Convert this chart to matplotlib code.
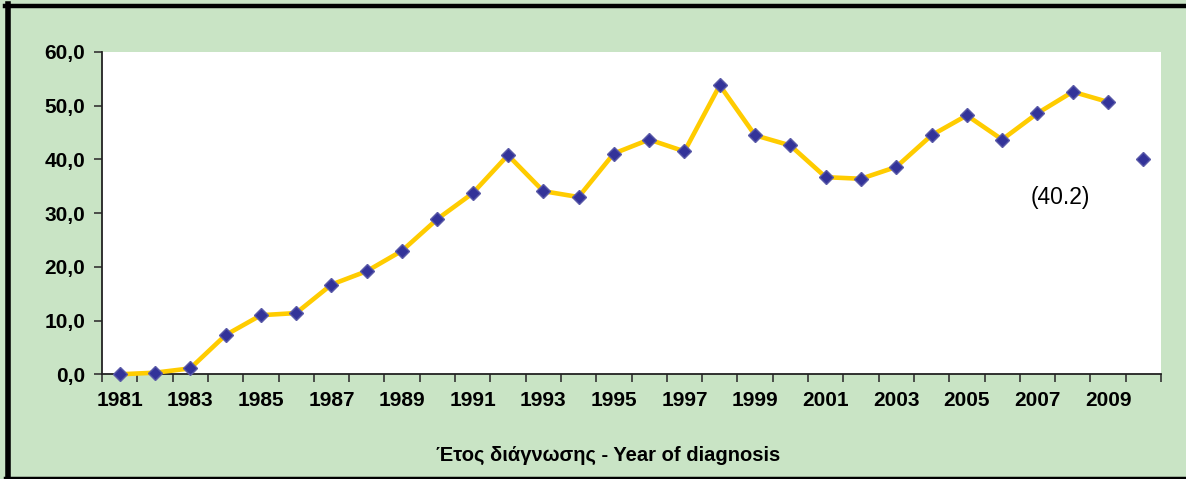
import matplotlib
matplotlib.use("Agg")
import matplotlib.pyplot as plt
from matplotlib.lines import Line2D

plt.rcParams['font.family'] = ['Liberation Sans', 'DejaVu Sans']

years = list(range(1981, 2010))
values = [0.0, 0.3, 1.1, 7.3, 11.0, 11.4, 16.7, 19.2, 23.0, 28.9,
          33.7, 40.8, 34.1, 33.0, 41.1, 43.7, 41.5, 53.8, 44.5, 42.6,
          36.7, 36.4, 38.6, 44.5, 48.2, 43.7, 48.6, 52.6, 50.7]
extra_year = [2010]
extra_value = [40.0]
annotation_text = "(40.2)"
yticks = [0, 10, 20, 30, 40, 50, 60]
ytick_labels = ["0,0", "10,0", "20,0", "30,0", "40,0", "50,0", "60,0"]
xtick_years = list(range(1981, 2010, 2))
xlabel = "Έτος διάγνωσης - Year of diagnosis"

green = "#C9E4C5"
fig = plt.figure(figsize=(11.86, 4.79), dpi=100, facecolor=green)
ax = fig.add_axes([102/1186, 1 - 374.3/479, (1161 - 102)/1186, (374.3 - 52)/479])
ax.set_facecolor("white")

ax.plot(years, values, color="#FFCC00", lw=3.3, marker="D", ms=7.6,
        mfc="#333399", mec="#5A5AA8", mew=1.0, zorder=3, clip_on=False)
ax.plot(extra_year, extra_value, ls="none", marker="D", ms=7.6,
        mfc="#333399", mec="#5A5AA8", mew=1.0, zorder=3, clip_on=False)

ax.text(2007.64, 33.0, annotation_text, fontsize=16.5, ha="center", va="center", color="black")

ax.set_xlim(1980.5, 2010.5)
ax.set_ylim(0, 60)
ax.set_yticks(yticks)
ax.set_yticklabels(ytick_labels, fontsize=15, fontweight="bold")
ax.set_xticks(xtick_years)
ax.set_xticklabels([str(y) for y in xtick_years], fontsize=15, fontweight="bold")
ax.set_xticks([y + 0.5 for y in range(1980, 2011)], minor=True)
ax.tick_params(axis="x", which="major", length=0, pad=12)
ax.tick_params(axis="x", which="minor", length=6, width=1.2, color="#333333", direction="out")
ax.tick_params(axis="y", length=6, width=1.2, color="#333333", pad=6)

for s in ["top", "right"]:
    ax.spines[s].set_visible(False)
for s in ["left", "bottom"]:
    ax.spines[s].set_color("#222222")
    ax.spines[s].set_linewidth(1.3)

fig.text(608/1186, 1 - 455/479, xlabel, fontsize=14.5,
         fontweight="bold", ha="center", va="center")

# outer frame (left, top, bottom)
fig.add_artist(Line2D([7.5/1186, 7.5/1186], [0, 1 - 4/479], color="black", lw=4, transform=fig.transFigure))
fig.add_artist(Line2D([5/1186, 1], [1 - 6/479, 1 - 6/479], color="black", lw=3.2, transform=fig.transFigure))
fig.add_artist(Line2D([5/1186, 1], [1.5/479, 1.5/479], color="black", lw=2.5, transform=fig.transFigure))

fig.savefig("out.png", dpi=100, facecolor=green)
